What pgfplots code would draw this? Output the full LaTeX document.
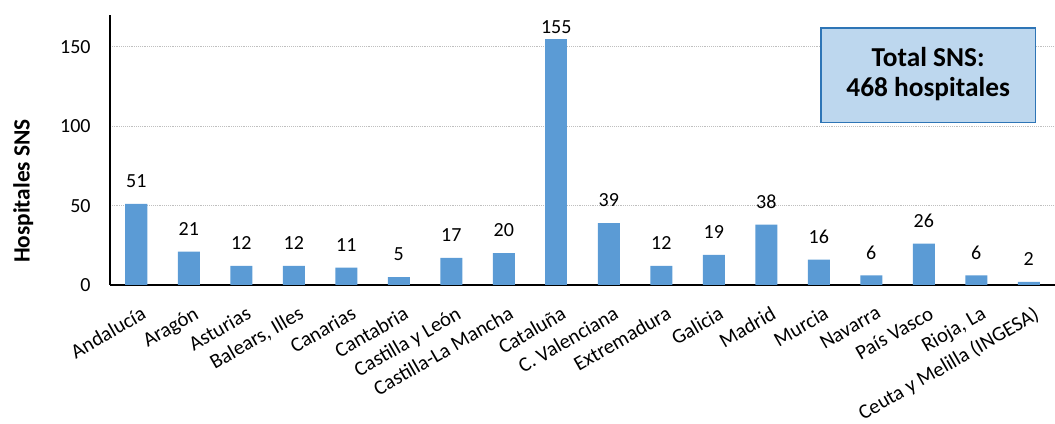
\documentclass[border=0pt]{standalone}
\usepackage{fontspec}
\setmainfont{Carlito}
\usepackage{pgfplots}
\pgfplotsset{compat=1.18}
\definecolor{barblue}{HTML}{5B9BD5}
\definecolor{boxfill}{HTML}{BDD7EE}
\definecolor{boxline}{HTML}{2E75B6}
\begin{document}
\begin{tikzpicture}
\begin{axis}[
  scale only axis,
  width=708.75pt, height=202.5pt,
  xmin=-0.5, xmax=17.5,
  ymin=0, ymax=170,
  axis x line*=bottom, axis y line*=left,
  axis line style={line width=1.2pt, -},
  ytick={0,50,100,150},
  ymajorgrids,
  grid style={densely dotted, gray!50, line width=0.9pt},
  major tick length=0pt,
  xtick={0,...,17},
  xticklabels={Andaluc\'ia,Arag\'on,Asturias,{Balears, Illes},Canarias,Cantabria,Castilla y Le\'on,Castilla-La Mancha,Catalu\~na,C. Valenciana,Extremadura,Galicia,Madrid,Murcia,Navarra,Pa\'is Vasco,{Rioja, La},Ceuta y Melilla (INGESA)},
  x tick label style={xshift=3pt, yshift=-15pt, rotate=30, anchor=north east, inner sep=0pt, font=\fontsize{15.5}{17}\selectfont},
  y tick label style={xshift=-11pt, font=\fontsize{15}{17}\selectfont},
  /pgf/number format/assume math mode=true,
  ylabel={\textbf{Hospitales SNS}},
  ylabel style={at={([xshift=-76pt]axis description cs:0,0.348)}, anchor=north, font=\fontsize{17.5}{20}\selectfont},
  nodes near coords,
  every node near coord/.append style={font=\fontsize{15}{17}\selectfont, inner sep=2pt, yshift=10pt},
  clip=false,
]
\addplot[ybar, bar width=16.5pt, bar shift=0pt, fill=barblue, draw=none] coordinates {
(0,51) (1,21) (2,12) (3,12) (4,11) (5,5) (6,17) (7,20) (9,39)
(10,12) (11,19) (12,38) (13,16) (14,6) (15,26) (16,6) (17,2)};
\addplot[ybar, bar width=16.5pt, bar shift=0pt, fill=barblue, draw=none,
  every node near coord/.append style={yshift=-8.5pt}] coordinates {(8,155)};
\node[draw=boxline, line width=1.2pt, fill=boxfill, align=center,
  minimum width=161pt, minimum height=71pt, anchor=north west, inner sep=0pt,
  font=\fontsize{20.5}{23.5}\selectfont\bfseries]
  at ([xshift=532.5pt, yshift=-9pt]rel axis cs:0,1) {\raisebox{3pt}{\begin{tabular}{@{}c@{}}Total SNS:\\[-1pt]468 hospitales\end{tabular}}};
\end{axis}
\pgfresetboundingbox
\path ([xshift=-82.5pt,yshift=-104.25pt]current axis.south west) rectangle ([yshift=11.25pt]current axis.north east);
\end{tikzpicture}
\end{document}
